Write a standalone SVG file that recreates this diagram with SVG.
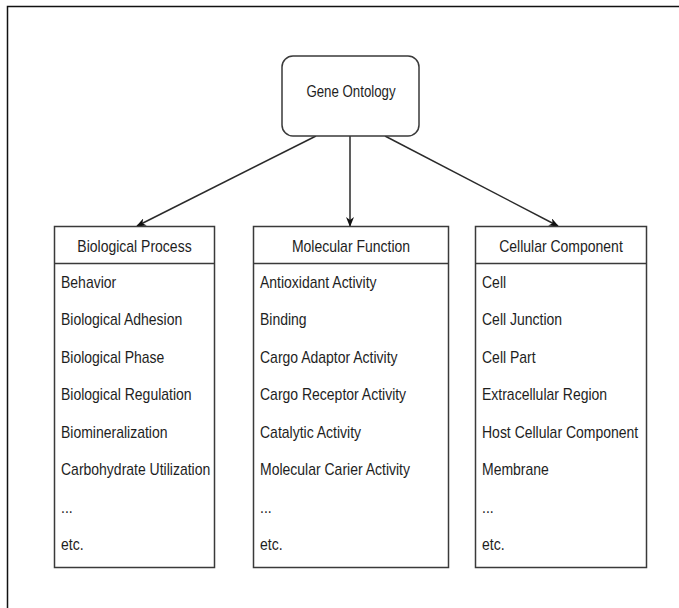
<svg xmlns="http://www.w3.org/2000/svg" width="679" height="608" viewBox="0 0 679 608">
  <style>
    text { font-family: "Liberation Sans", Arial, sans-serif; font-size: 16px; fill: #1e1e1e; }
    .hdr { text-anchor: middle; }
    .box { fill: #ffffff; stroke: #3a3a3a; stroke-width: 1.5; }
    .sep { stroke: #3a3a3a; stroke-width: 1.5; }
    .edge { fill: none; stroke: #2a2a2a; stroke-width: 1.5; marker-end: url(#arrow); }
  </style>
  <defs>
    <marker id="arrow" viewBox="0 0 10 8" refX="9" refY="4" markerWidth="10" markerHeight="8" markerUnits="userSpaceOnUse" orient="auto">
      <path d="M0,0 L10,4 L0,8 L3,4 z" fill="#111111"/>
    </marker>
  </defs>

  <rect width="679" height="608" fill="#ffffff"/>
  <!-- page frame -->
  <rect x="7.5" y="6.5" width="720" height="660" fill="none" stroke="#111111" stroke-width="1.5"/>

  <g id="connectors">
    <line class="edge" x1="316" y1="136" x2="137" y2="226"/>
    <line class="edge" x1="350" y1="136" x2="350" y2="226"/>
    <line class="edge" x1="385" y1="136" x2="558" y2="226"/>
  </g>

  <g id="gene-ontology">
    <rect class="box" x="282" y="56" width="137" height="80" rx="11"/>
    <text class="hdr" transform="translate(351,97) scale(0.83,1)">Gene Ontology</text>
  </g>

  <!-- list labels use a narrow, tall face: 16px scaled horizontally -->
  <g id="biological-process">
    <rect class="box" x="54.5" y="226.5" width="160" height="341"/>
    <line class="sep" x1="54.5" y1="263.5" x2="214.5" y2="263.5"/>
    <text class="hdr" transform="translate(134.5,252) scale(0.875,1)">Biological Process</text>
    <g transform="translate(61,0) scale(0.875,1)">
      <text y="288">Behavior</text>
      <text y="325.5">Biological Adhesion</text>
      <text y="363">Biological Phase</text>
      <text y="400.5">Biological Regulation</text>
      <text y="438">Biomineralization</text>
      <text y="475.5">Carbohydrate Utilization</text>
      <text y="513">...</text>
      <text y="550.5">etc.</text>
    </g>
  </g>

  <g id="molecular-function">
    <rect class="box" x="253.5" y="226.5" width="195" height="341"/>
    <line class="sep" x1="253.5" y1="263.5" x2="448.5" y2="263.5"/>
    <text class="hdr" transform="translate(351,252) scale(0.875,1)">Molecular Function</text>
    <g transform="translate(260,0) scale(0.875,1)">
      <text y="288">Antioxidant Activity</text>
      <text y="325.5">Binding</text>
      <text y="363">Cargo Adaptor Activity</text>
      <text y="400.5">Cargo Receptor Activity</text>
      <text y="438">Catalytic Activity</text>
      <text y="475.5">Molecular Carier Activity</text>
      <text y="513">...</text>
      <text y="550.5">etc.</text>
    </g>
  </g>

  <g id="cellular-component">
    <rect class="box" x="475.5" y="226.5" width="171" height="341"/>
    <line class="sep" x1="475.5" y1="263.5" x2="646.5" y2="263.5"/>
    <text class="hdr" transform="translate(561,252) scale(0.875,1)">Cellular Component</text>
    <g transform="translate(482,0) scale(0.875,1)">
      <text y="288">Cell</text>
      <text y="325.5">Cell Junction</text>
      <text y="363">Cell Part</text>
      <text y="400.5">Extracellular Region</text>
      <text y="438">Host Cellular Component</text>
      <text y="475.5">Membrane</text>
      <text y="513">...</text>
      <text y="550.5">etc.</text>
    </g>
  </g>
</svg>
